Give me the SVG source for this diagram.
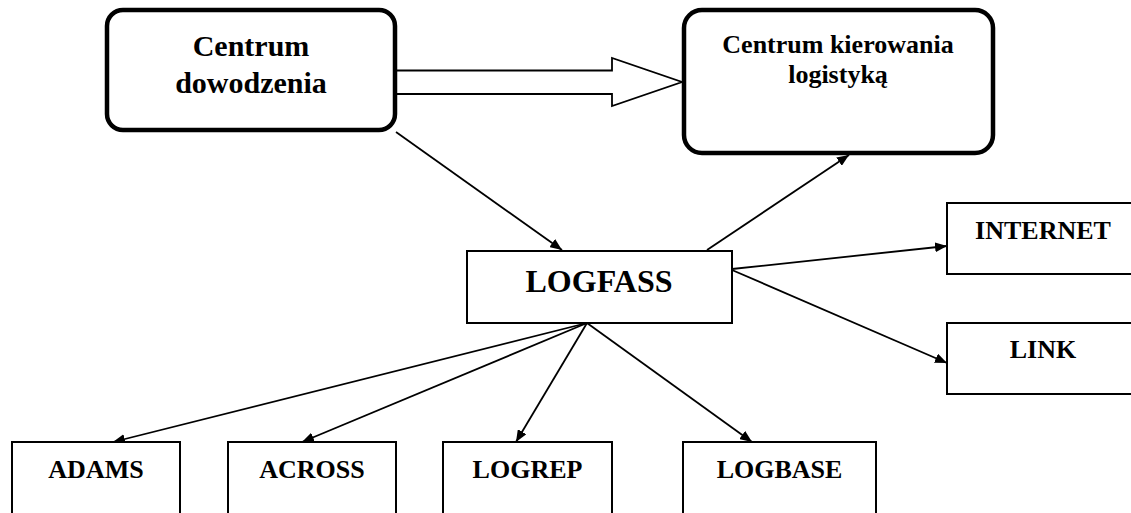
<svg xmlns="http://www.w3.org/2000/svg" width="1131" height="513" viewBox="0 0 1131 513">
<style>
text{font-family:"Liberation Serif","Times New Roman",serif;font-weight:bold;fill:#000;text-anchor:middle}
.rb{fill:#fff;stroke:#000;stroke-width:4.5}
.bx{fill:#fff;stroke:#000;stroke-width:2}
.ln{stroke:#000;stroke-width:1.8;fill:none;marker-end:url(#ah)}
</style>
<defs>
<marker id="ah" viewBox="0 0 12 10" refX="12" refY="5" markerWidth="12" markerHeight="10" markerUnits="userSpaceOnUse" orient="auto">
<path d="M0,0 L12,5 L0,10 Z" fill="#000"/>
</marker>
</defs>
<rect width="1131" height="513" fill="#fff"/>
<g id="connectors">
<path d="M397,70.5 H612 V58 L682,82 L612,106 V94 H397" fill="#fff" stroke="#000" stroke-width="1.8"/>
<line class="ln" x1="396" y1="132" x2="562" y2="250"/>
<line class="ln" x1="707" y1="250" x2="849" y2="155"/>
<line class="ln" x1="732" y1="269" x2="947" y2="246"/>
<line class="ln" x1="732" y1="270" x2="947" y2="363"/>
<line class="ln" x1="587" y1="323" x2="113" y2="442"/>
<line class="ln" x1="587" y1="323" x2="302" y2="442"/>
<line class="ln" x1="587" y1="323" x2="516" y2="442"/>
<line class="ln" x1="587" y1="323" x2="752" y2="442"/>
</g>
<g id="centrum-dowodzenia">
<rect class="rb" x="107" y="10" width="288" height="120" rx="16"/>
<text x="251" y="56" font-size="30">Centrum</text>
<text x="251" y="93" font-size="30">dowodzenia</text>
</g>
<g id="centrum-kierowania">
<rect class="rb" x="684" y="10" width="309" height="143" rx="18"/>
<text x="838" y="53" font-size="26">Centrum kierowania</text>
<text x="838" y="83" font-size="26">logistyką</text>
</g>
<g id="logfass">
<rect class="bx" x="467" y="251" width="265" height="72"/>
<text x="599" y="292" font-size="32">LOGFASS</text>
</g>
<g id="internet">
<rect class="bx" x="947" y="203" width="195" height="71"/>
<text x="1043" y="239" font-size="26">INTERNET</text>
</g>
<g id="link">
<rect class="bx" x="947" y="323" width="195" height="71"/>
<text x="1043" y="358" font-size="26">LINK</text>
</g>
<g id="adams">
<rect class="bx" x="12" y="442" width="168" height="90"/>
<text x="96" y="478" font-size="26">ADAMS</text>
</g>
<g id="across">
<rect class="bx" x="228" y="442" width="168" height="90"/>
<text x="312" y="478" font-size="26">ACROSS</text>
</g>
<g id="logrep">
<rect class="bx" x="443" y="442" width="169" height="90"/>
<text x="527.5" y="478" font-size="26">LOGREP</text>
</g>
<g id="logbase">
<rect class="bx" x="683" y="442" width="193" height="90"/>
<text x="779.5" y="478" font-size="26">LOGBASE</text>
</g>
</svg>
